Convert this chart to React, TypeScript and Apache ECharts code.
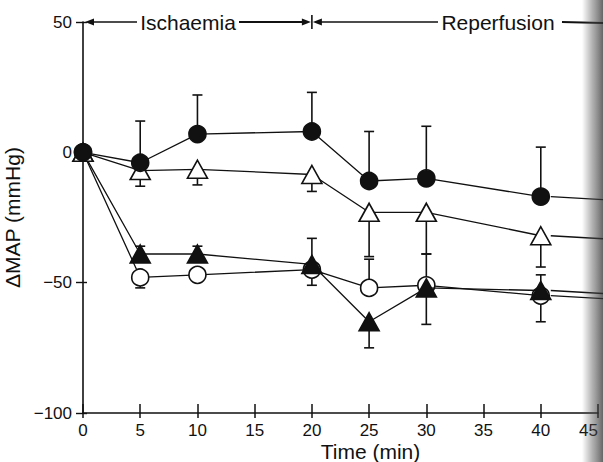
import React, { useEffect, useRef } from "react";
import * as echarts from "echarts";

// Time points (min)
const times = [0, 5, 10, 20, 25, 30, 40];
// ΔMAP means (mmHg)
const filledCircle = [0, -4, 7, 8, -11, -10, -17];
const openTriangle = [0, -7, -6.5, -8.5, -23, -23, -32];
const filledTriangle = [0, -39, -39, -43, -65, -52, -53];
const openCircle = [0, -48, -47, -45, -52, -51, -55];
// Error bar end values (one-sided SEM bars)
const filledCircleErr = [null, 12, 22, 23, 8, 10, 2];
const openTriangleErr = [null, -13, -12.5, -15, -40, -39, -44];
const filledTriangleErr = [null, -36, -36, -33, -75, -66, -47];
const openCircleErr = [null, -52, null, -51, -41, -39, -65];

const xTicks = [0, 5, 10, 15, 20, 25, 30, 35, 40, 45];
const yTicks = [-100, -50, 0, 50];
const phaseLabels = ["Ischaemia", "Reperfusion"];
const xTitle = "Time (min)";
const yTitle = "\u0394MAP (mmHg)";
const phaseBoundary = 20;

const FONT = "Liberation Sans";
const INK = "#111";

function errData(vals: number[], errs: (number | null)[]) {
  const out: number[][] = [];
  times.forEach((t, i) => {
    const e = errs[i];
    if (e !== null && e !== undefined) out.push([t, vals[i], e]);
  });
  return out;
}

export default function App() {
  const ref = useRef<HTMLDivElement>(null);
  useEffect(() => {
    const chart = echarts.init(ref.current!, null, { renderer: "svg" });

    const renderErr = (params: any, api: any) => {
      const x = api.value(0);
      const y = api.value(1);
      const e = api.value(2);
      const p1 = api.coord([x, y]);
      const p2 = api.coord([x, e]);
      const style = { stroke: INK, lineWidth: 1.6 };
      return {
        type: "group",
        children: [
          { type: "line", shape: { x1: p1[0], y1: p1[1], x2: p2[0], y2: p2[1] }, style },
          { type: "line", shape: { x1: p2[0] - 5, y1: p2[1], x2: p2[0] + 5, y2: p2[1] }, style },
        ],
      };
    };

    const lineSeries = (
      name: string,
      vals: number[],
      symbol: string,
      size: any,
      filled: boolean,
      z: number
    ) => ({
      name,
      type: "line",
      data: times.map((t, i) => [t, vals[i]]),
      symbol,
      symbolSize: size,
      showSymbol: true,
      z,
      lineStyle: { color: INK, width: 1.3 },
      itemStyle: {
        color: filled ? INK : "#fff",
        borderColor: INK,
        borderWidth: 1.6,
      },
      emphasis: { disabled: true },
    });

    const errSeries = (vals: number[], errs: (number | null)[]) => ({
      type: "custom",
      renderItem: renderErr,
      data: errData(vals, errs),
      z: 1,
      silent: true,
    });

    const axisBase = {
      type: "value",
      splitLine: { show: false },
    };

    chart.setOption({
      animation: false,
      grid: { left: 83, right: 5, top: 22, bottom: 49, containLabel: false, outerBoundsMode: "none" },
      xAxis: [
        {
          ...axisBase,
          min: 0,
          max: 45,
          interval: 5,
          position: "bottom",
          axisLine: { onZero: false, lineStyle: { color: INK, width: 1.6 } },
          axisTick: { length: 5, lineStyle: { color: INK, width: 1.5 } },
          axisLabel: {
            fontFamily: FONT,
            fontSize: 17,
            color: INK,
            margin: 9,
            customValues: xTicks,
            alignMaxLabel: "right",
          },
        },
        {
          ...axisBase,
          min: 0,
          max: 45,
          interval: 5,
          position: "bottom",
          axisLine: { show: false, onZero: false },
          axisTick: { inside: true, length: 9, lineStyle: { color: INK, width: 1.5 } },
          axisLabel: { show: false },
        },
      ],
      yAxis: [
        {
          ...axisBase,
          min: -100,
          max: 50,
          interval: 50,
          position: "left",
          axisLine: { onZero: false, lineStyle: { color: INK, width: 1.6 } },
          axisTick: { length: 7, lineStyle: { color: INK, width: 1.4 } },
          axisLabel: {
            fontFamily: FONT,
            fontSize: 17,
            color: INK,
            margin: 11,
            customValues: yTicks,
            formatter: (v: number) => String(v).replace("-", "\u2212"),
          },
          name: yTitle,
          nameLocation: "middle",
          nameRotate: 90,
          nameGap: 49,
          nameTextStyle: { fontFamily: FONT, fontSize: 21, color: INK },
        },
        {
          ...axisBase,
          min: -100,
          max: 50,
          interval: 50,
          position: "left",
          axisLine: { show: false, onZero: false },
          axisTick: { inside: true, length: 4, lineStyle: { color: INK, width: 1.4 } },
          axisLabel: { show: false },
        },
      ],
      series: [
        errSeries(filledCircle, filledCircleErr),
        errSeries(openTriangle, openTriangleErr),
        errSeries(filledTriangle, filledTriangleErr),
        errSeries(openCircle, openCircleErr),
        lineSeries("open circle", openCircle, "circle", 17, false, 3),
        lineSeries("filled triangle", filledTriangle, "triangle", [20, 18], true, 4),
        lineSeries("open triangle", openTriangle, "triangle", [20, 18], false, 5),
        lineSeries("filled circle", filledCircle, "circle", 17, true, 6),
      ],
    });

    // Annotations computed through the axes
    const p0 = chart.convertToPixel({ gridIndex: 0 }, [0, 50]) as number[];
    const pB = chart.convertToPixel({ gridIndex: 0 }, [phaseBoundary, 50]) as number[];
    const pBottom = chart.convertToPixel({ gridIndex: 0 }, [0, -100]) as number[];
    const pRight = chart.convertToPixel({ gridIndex: 0 }, [45, -100]) as number[];
    const yTop = p0[1];
    const W = 603;
    const lineStyle = { stroke: INK, lineWidth: 1.6 };
    const arrow = (tipX: number, dir: number) => ({
      type: "polygon",
      shape: {
        points: [
          [tipX, yTop],
          [tipX + dir * 9, yTop - 3.5],
          [tipX + dir * 9, yTop + 3.5],
        ],
      },
      style: { fill: INK },
    });
    const ischX = 188;
    const repX = 498;
    const graphics: any[] = [
      arrow(p0[0] + 2, 1),
      { type: "line", shape: { x1: p0[0] + 8, y1: yTop, x2: ischX - 51, y2: yTop }, style: lineStyle },
      {
        type: "text",
        x: ischX,
        y: yTop,
        style: { text: phaseLabels[0], font: `21px "${FONT}"`, fill: INK, align: "center", verticalAlign: "middle" },
      },
      { type: "line", shape: { x1: ischX + 51, y1: yTop, x2: pB[0] - 6, y2: yTop }, style: { stroke: INK, lineWidth: 2 } },
      arrow(pB[0] - 1, -1),
      { type: "line", shape: { x1: pB[0], y1: yTop - 7, x2: pB[0], y2: yTop + 7 }, style: lineStyle },
      arrow(pB[0] + 1, 1),
      { type: "line", shape: { x1: pB[0] + 8, y1: yTop, x2: repX - 60, y2: yTop }, style: lineStyle },
      {
        type: "text",
        x: repX,
        y: yTop,
        style: { text: phaseLabels[1], font: `21px "${FONT}"`, fill: INK, align: "center", verticalAlign: "middle" },
      },
      { type: "line", shape: { x1: repX + 64, y1: yTop, x2: W, y2: yTop + 1 }, style: { stroke: INK, lineWidth: 2 } },
      {
        type: "text",
        x: (pBottom[0] + pRight[0]) / 2 + 30,
        y: pBottom[1] + 38,
        style: { text: xTitle, font: `21px "${FONT}"`, fill: INK, align: "center", verticalAlign: "middle" },
      },
    ];
    // leader lines from last points to the right edge
    const last = times.length - 1;
    [filledCircle, openTriangle, filledTriangle, openCircle].forEach((arr) => {
      const p = chart.convertToPixel({ gridIndex: 0 }, [times[last], arr[last]]) as number[];
      graphics.push({
        type: "line",
        shape: { x1: p[0] + 10, y1: p[1], x2: W, y2: p[1] + 3 },
        style: { stroke: INK, lineWidth: 1.3 },
      });
    });
    // scanned page edge shading
    graphics.push({
      type: "rect",
      shape: { x: 582, y: 0, width: 21, height: 462 },
      style: {
        fill: new echarts.graphic.LinearGradient(0, 0, 1, 0, [
          { offset: 0, color: "rgba(80,80,80,0)" },
          { offset: 0.5, color: "rgba(80,80,80,0.45)" },
          { offset: 1, color: "rgba(50,50,50,0.75)" },
        ]),
      },
      z: 100,
      silent: true,
    });
    chart.setOption({ graphic: graphics });

    return () => chart.dispose();
  }, []);
  return (
    <div
      ref={ref}
      style={{ position: "absolute", left: 0, top: 0, width: 603, height: 462, background: "#fff" }}
    />
  );
}
